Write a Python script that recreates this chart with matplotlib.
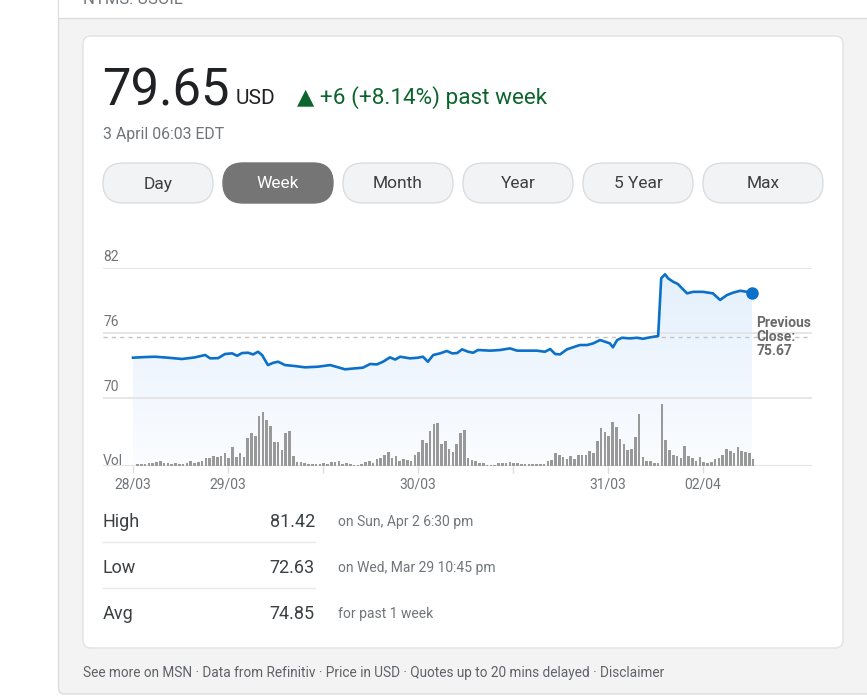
import numpy as np
import matplotlib.pyplot as plt
from matplotlib.patches import FancyBboxPatch, Rectangle

plt.rcParams['font.family'] = ['Roboto', 'DejaVu Sans']

# ---- data ----
last_price = 79.65
currency = 'USD'
change_text = '\u25B2 +6 (+8.14%) past week'
timestamp = '3 April 06:03 EDT'
ranges = ['Day', 'Week', 'Month', 'Year', '5 Year', 'Max']
active_range = 'Week'

# price line, x in "volume bar" units
price_t = [-1.2, 2.0, 4.6, 8.0, 11.7, 15.1, 17.8, 19.1, 21.2, 23.0, 24.9, 26.2, 27.5, 29.1,
           30.4, 31.7, 32.8, 34.3, 35.7, 37.0, 38.8, 41.4, 44.1, 47.5, 50.7, 52.8, 54.6,
           56.7, 59.3, 61.2, 63.0, 64.6, 66.4, 67.8, 69.1, 71.7, 73.8, 75.1, 76.4, 77.8,
           79.6, 81.4, 82.8, 84.1, 85.4, 87.0, 88.3, 89.6, 92.8, 95.4, 98.0, 99.9, 102.5,
           105.1, 107.2, 108.6, 109.9, 111.2, 113.0, 114.6, 116.4, 118.3, 119.9, 121.7,
           123.0, 124.3, 125.1, 126.2, 127.5, 129.6, 131.4, 133.0, 134.9, 137.0, 137.8,
           138.8, 139.6, 140.9, 142.2, 143.3, 144.6, 146.2, 148.8, 151.4, 153.3, 155.1,
           156.7, 158.6, 160.4, 161.7]
price = [73.72, 73.78, 73.81, 73.72, 73.60, 73.75, 73.97, 73.66, 73.68, 74.06, 74.12, 73.90,
         74.15, 74.18, 74.02, 74.27, 73.95, 73.04, 73.25, 73.35, 73.04, 72.95, 72.83, 72.89,
         73.04, 72.83, 72.65, 72.72, 72.80, 73.14, 73.10, 73.35, 73.75, 73.55, 73.81, 73.66,
         73.72, 73.81, 73.35, 73.97, 74.12, 74.34, 74.12, 74.15, 74.49, 74.27, 74.18, 74.43,
         74.37, 74.43, 74.58, 74.37, 74.37, 74.37, 74.27, 74.52, 74.06, 74.03, 74.49, 74.68,
         74.89, 74.89, 75.04, 75.35, 75.20, 75.04, 74.68, 75.35, 75.56, 75.50, 75.56, 75.47,
         75.60, 75.72, 81.05, 81.42, 81.05, 80.74, 80.52, 80.12, 79.66, 79.80, 79.80, 79.66,
         79.05, 79.50, 79.72, 79.90, 79.80, 79.65]

volume = [1.7, 1.7, 1.7, 2.7, 2.7, 4.3, 5.0, 3.3, 2.7, 2.0, 3.3, 2.0, 2.0, 2.7, 5.0, 2.7,
          3.7, 5.0, 8.3, 8.3, 10.0, 8.7, 10.0, 12.7, 7.7, 18.7, 9.3, 12.7, 9.0, 27.7, 32.7,
          30.0, 50.3, 53.7, 46.0, 40.0, 23.7, 23.7, 16.0, 32.7, 35.3, 10.3, 4.3, 4.3, 2.7,
          2.0, 1.7, 1.7, 1.7, 3.3, 2.0, 3.7, 3.7,
          5.0, 1.7, 3.3, 1.7, 1.3, 1.3, 2.0, 4.3, 5.3, 3.0, 7.0, 8.3, 11.0, 14.3, 7.7, 10.0,
          5.3, 7.0, 6.0, 5.3, 10.7, 13.7, 26.0, 22.7, 35.0, 42.0, 42.7, 21.7, 24.7, 17.0,
          14.3, 21.7, 33.3, 36.0, 7.7, 6.3, 5.3, 3.3, 2.7, 1.3, 1.0, 1.3, 2.7, 2.7, 3.0,
          4.3, 3.0, 2.7, 2.3, 1.7, 1.7, 1.7, 1.7, 1.7, 1.7, 5.0,
          6.0, 12.7, 11.0, 8.7, 6.7, 10.3, 7.0, 11.0, 11.0, 11.0, 15.0, 12.7, 25.3, 37.7,
          33.7, 30.0, 43.7, 39.3, 26.7, 22.0, 16.0, 17.0, 28.7, 51.7, 8.7, 5.0, 5.0, 2.7,
          2.7, 61.7, 26.0, 16.0, 11.0, 10.3, 8.3, 20.3, 10.0, 7.7, 5.0, 9.3, 3.7, 2.7, 3.7,
          7.0, 8.3, 11.0, 17.0, 15.0, 12.7, 18.7, 15.0, 14.3, 12.7, 7.0]

y_ticks = [70, 76, 82]
x_tick_labels = ['28/03', '29/03', '', '30/03', '', '31/03', '02/04']
tick_step = 25
prev_close = 75.67

stat_names = ['High', 'Low', 'Avg']
stat_values = [81.42, 72.63, 74.85]
stat_notes = ['on Sun, Apr 2 6:30 pm', 'on Wed, Mar 29 10:45 pm', 'for past 1 week']

footer = ('See more on MSN \u00b7 Data from Refinitiv \u00b7 Price in USD \u00b7 '
          'Quotes up to 20 mins delayed \u00b7 Disclaimer')

# ---- figure / page ----
W, H = 867, 697
fig = plt.figure(figsize=(W / 100, H / 100), dpi=100)
bg = fig.add_axes([0, 0, 1, 1])
bg.set_xlim(0, W)
bg.set_ylim(H, 0)
bg.axis('off')

bg.add_patch(FancyBboxPatch((58.5, -20), 840, 714, boxstyle='round,pad=0,rounding_size=6',
                            fc='#f3f3f3', ec='#dadce0', lw=1))
bg.add_patch(Rectangle((59, -20), 830, 38, fc='white', ec='none'))
bg.plot([59, W], [18, 18], color='#dadce0', lw=1)
bg.text(83, 4, 'NYMS: USOIL', fontsize=12, color='#70757a', va='baseline')

bg.add_patch(FancyBboxPatch((83, 36), 760, 612, boxstyle='round,pad=0,rounding_size=8',
                            fc='white', ec='#e2e2e2', lw=1))

# header
bg.text(102, 105, f'{last_price:.2f}', fontsize=36.5, color='#202124', va='baseline')
bg.text(236, 104, currency, fontsize=15, color='#202124', va='baseline')
bg.text(297, 104, change_text, fontsize=16.2, color='#0d652d', va='baseline')
bg.text(103, 139, timestamp, fontsize=11.4, color='#70757a', va='baseline')

# range buttons
for i, name in enumerate(ranges):
    x0 = 103 + 120 * i
    w = 120 if name == 'Max' else 110
    active = name == active_range
    bg.add_patch(FancyBboxPatch((x0, 163), w, 40, boxstyle='round,pad=0,rounding_size=20',
                                fc='#757575' if active else '#f1f3f4',
                                ec='#757575' if active else '#dadce0', lw=1))
    bg.text(x0 + w / 2, 184, name, fontsize=12.5, ha='center', va='center',
            color='white' if active else '#3c4043')

# ---- chart ----
left, right, top, base = 103, 812, 268, 466
px_per_unit = 130 / 12
ymin = y_ticks[-1] - (base - top) / px_per_unit
rect = [left / W, 1 - base / H, (right - left) / W, (base - top) / H]

ax = fig.add_axes(rect)
ax.patch.set_visible(False)
ax.set_ylim(ymin, y_ticks[-1])
xmin = price_t[0] - (133 - left) / 3.8
xmax = xmin + (right - left) / 3.8
ax.set_xlim(xmin, xmax)
for s in ax.spines.values():
    s.set_visible(False)

for yv in y_ticks:
    ax.axhline(yv, color='#e4e4e4', lw=1.3, zorder=1)
    ax.annotate(str(yv), xy=(0, yv), xycoords=('axes fraction', 'data'),
                xytext=(0, 3), textcoords='offset points', fontsize=10,
                color='#70757a', va='bottom', ha='left')
ax.axhline(ymin, color='#e4e4e4', lw=1.5, zorder=1)
ax.annotate('Vol', xy=(0, ymin), xycoords=('axes fraction', 'data'),
            xytext=(0, -1.5), textcoords='offset points', fontsize=10,
            color='#70757a', va='bottom', ha='left')

# gradient fill under the line
poly = ax.fill_between(price_t, price, ymin, fc='none', ec='none')
grad = np.linspace(0, 1, 256).reshape(-1, 1)
c_top = np.array([0.89, 0.94, 0.99])
c_bot = np.array([0.985, 0.99, 1.0])
img = c_top + (c_bot - c_top) * grad[..., None]
im = ax.imshow(img, extent=[price_t[0], price_t[-1], ymin, y_ticks[-1]],
               aspect='auto', origin='upper', zorder=0.5)
im.set_clip_path(poly.get_paths()[0], transform=ax.transData)

ax.axhline(prev_close, color='#c4c4c4', lw=1, ls=(0, (3, 3)), zorder=1.5)
ax.plot(price_t, price, color='#0b70c8', lw=1.9, zorder=3, solid_joinstyle='round')
ax.plot(price_t[-1], price[-1], 'o', color='#0b70c8', ms=8, zorder=4)
ax.annotate(f'Previous\nClose:\n{prev_close:.2f}', xy=(price_t[-1], prev_close),
            xytext=(3, 0), textcoords='offset points', fontsize=10, fontweight='bold',
            color='#6a6a6a', va='center', ha='left', linespacing=1.0)

ticks = price_t[0] + tick_step * np.arange(len(x_tick_labels))
ax.set_xticks(ticks)
ax.set_xticklabels(x_tick_labels)
ax.tick_params(axis='x', length=5, width=1, color='#dadce0', pad=3,
               labelsize=10, labelcolor='#70757a')
ax.set_yticks([])

# volume bars on their own axes
vax = fig.add_axes(rect, sharex=ax)
vax.patch.set_visible(False)
vax.bar(np.arange(len(volume)), volume, width=0.68, color='#999999', zorder=2)
vax.set_ylim(0, max(volume) * (base - top) / 61.7)
vax.axis('off')

# ---- stats table ----
for i, (name, val, note) in enumerate(zip(stat_names, stat_values, stat_notes)):
    yc = 522 + 46 * i
    bg.text(103, yc, name, fontsize=13, color='#3c4043', va='center')
    bg.text(315, yc, f'{val:.2f}', fontsize=13, color='#3c4043', va='center', ha='right')
    bg.text(338, yc, note, fontsize=10, color='#70757a', va='center')
    if i < len(stat_names) - 1:
        bg.plot([103, 315], [yc + 19.5, yc + 19.5], color='#e8eaed', lw=1)

bg.text(83, 673, footer, fontsize=9.8, color='#5f6368', va='center')

fig.savefig('out.png', dpi=100)
